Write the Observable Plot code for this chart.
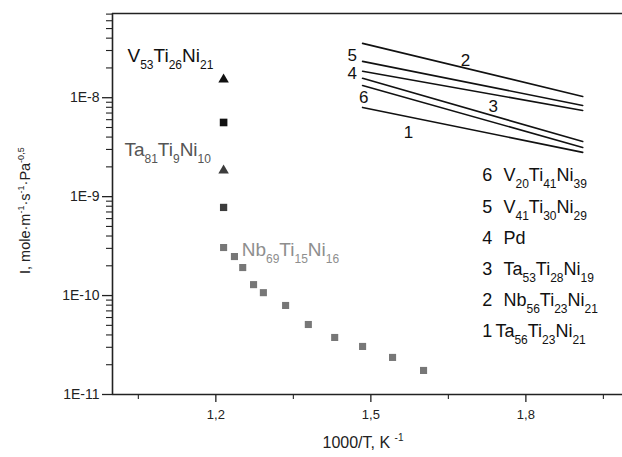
<!DOCTYPE html>
<html><head><meta charset="utf-8">
<script src="https://cdn.jsdelivr.net/npm/d3@7"></script>
<script src="https://cdn.jsdelivr.net/npm/@observablehq/plot@0.6"></script>
<style>body{margin:0;background:#fff} svg{font-family:"Liberation Sans",Arial,sans-serif}</style>
</head><body><div id="chart"></div>
<script>
// ---- data ----
const xDomain = [1.0, 1.987];
const yDomain = [1e-11, 7.1e-8];
const xMajor = [1.2, 1.5, 1.8];
const xMinor = [1.05, 1.35, 1.65, 1.95];
const yMajor = [1e-11, 1e-10, 1e-9, 1e-8];
const yMinor = [];
for (let e = -11; e <= -8; e++) for (let k = 2; k <= 9; k++) { const v = k * Math.pow(10, e); if (v < yDomain[1]) yMinor.push(v); }

// V53Ti26Ni21 (triangle, square)
const vX = [1.215, 1.215];
const vY = [1.53e-8, 5.62e-9];
// Ta81Ti9Ni10 (triangle, square)
const taX = [1.215, 1.215];
const taY = [1.84e-9, 7.78e-10];
const pairSymbol = ["triangle", "square"];
// Nb69Ti15Ni16 (squares)
const nbX = [1.215, 1.236, 1.252, 1.273, 1.292, 1.335, 1.379, 1.430, 1.484, 1.542, 1.602];
const nbY = [3.06e-10, 2.48e-10, 1.92e-10, 1.29e-10, 1.07e-10, 7.94e-11, 5.1e-11, 3.77e-11, 3.06e-11, 2.37e-11, 1.75e-11];

// literature lines 1..6
const lineIds = [1, 2, 3, 4, 5, 6];
const lineX = [1.484, 1.910];
const lineStart = [7.98e-9, 3.54e-8, 1.57e-8, 1.85e-8, 2.33e-8, 1.33e-8];
const lineEnd = [2.80e-9, 1.03e-8, 3.61e-9, 7.43e-9, 8.36e-9, 3.14e-9];
const lineNames = ["Ta_{56}Ti_{23}Ni_{21}", "Nb_{56}Ti_{23}Ni_{21}", "Ta_{53}Ti_{28}Ni_{19}", "Pd", "V_{41}Ti_{30}Ni_{29}", "V_{20}Ti_{41}Ni_{39}"];
// line number label anchors
const numLabelX = [1.573, 1.683, 1.737, 1.464, 1.464, 1.486];
const numLabelY = [4.46e-9, 2.38e-8, 8.17e-9, 1.76e-8, 2.68e-8, 1.01e-8];
// legend rows anchors
const legendY = [4.33e-11, 9.03e-11, 1.84e-10, 3.82e-10, 7.86e-10, 1.64e-9];
const legendNumX = [1.735, 1.735, 1.735, 1.735, 1.735, 1.735];
const legendNameX = [1.741, 1.7566, 1.7566, 1.7566, 1.7566, 1.7566];

// series annotations
const seriesNames = ["V_{53}Ti_{26}Ni_{21}", "Ta_{81}Ti_{9}Ni_{10}", "Nb_{69}Ti_{15}Ni_{16}"];
const seriesLabelX = [1.029, 1.023, 1.250];
const seriesLabelY = [2.65e-8, 2.96e-9, 2.92e-10];

const xLabel = "1000/T, K ^{-1}";
const yLabel = "I, mole·m^{-1}·s^{-1}·Pa^{-0,5}";

// ---- build tables ----
const vPts = vX.map((x, i) => ({x, y: vY[i], s: pairSymbol[i]}));
const taPts = taX.map((x, i) => ({x, y: taY[i], s: pairSymbol[i]}));
const nbPts = nbX.map((x, i) => ({x, y: nbY[i]}));
const lineTable = lineIds.flatMap((id, i) => [{id, x: lineX[0], y: lineStart[i]}, {id, x: lineX[1], y: lineEnd[i]}]);
const numLabels = lineIds.map((id, i) => ({t: String(id), x: numLabelX[i], y: numLabelY[i]}));
const legendNums = lineIds.map((id, i) => ({t: String(id), x: legendNumX[i], y: legendY[i]}));
const legendNames = lineIds.map((id, i) => ({t: lineNames[i], x: legendNameX[i], y: legendY[i]}));
const seriesLabels = seriesNames.map((t, i) => ({t, x: seriesLabelX[i], y: seriesLabelY[i]}));

const colV = "#111", colTa = "#3c3c3c", colTaText = "#555", colNb = "#777", colNbText = "#8e8e8e";
const seriesTextColors = [colV, colTaText, colNbText];

const plot = Plot.plot({
  width: 622, height: 457,
  marginLeft: 112, marginRight: 0, marginTop: 13, marginBottom: 63,
  style: {fontFamily: "Liberation Sans, Arial, sans-serif", background: "#fff", color: "#222"},
  x: {domain: xDomain},
  y: {type: "log", domain: yDomain},
  marks: [
    Plot.axisY(yMajor, {tickSize: 10, tickPadding: 3, strokeWidth: 1.3, fontSize: 14, tickFormat: d => "1E" + Math.round(Math.log10(d)), label: null}),
    Plot.axisY(yMinor, {tickSize: 6, strokeWidth: 1.1, tickFormat: () => "", label: null}),
    Plot.axisX(xMajor, {tickSize: 8, tickPadding: 7, strokeWidth: 1.3, fontSize: 13, tickFormat: d => d.toFixed(1).replace(".", ","), label: null}),
    Plot.axisX(xMinor, {tickSize: 5, strokeWidth: 1.1, tickFormat: () => "", label: null}),
    Plot.ruleY([yDomain[1]], {stroke: "#222", strokeWidth: 1.6}),
    Plot.ruleY([yDomain[0]], {stroke: "#222", strokeWidth: 1.6}),
    Plot.ruleX([xDomain[0]], {stroke: "#222", strokeWidth: 1.6}),
    Plot.line(lineTable, {x: "x", y: "y", z: "id", stroke: "#111", strokeWidth: 1.6}),
    Plot.dot(vPts, {filter: d => d.s === "triangle", x: "x", y: "y", symbol: "triangle", r: 3.9, fill: colV}),
    Plot.dot(vPts, {filter: d => d.s === "square", x: "x", y: "y", symbol: "square", r: 4.3, fill: colV}),
    Plot.dot(taPts, {filter: d => d.s === "triangle", x: "x", y: "y", symbol: "triangle", r: 3.9, fill: colTa}),
    Plot.dot(taPts, {filter: d => d.s === "square", x: "x", y: "y", symbol: "square", r: 4.1, fill: colTa}),
    Plot.dot(nbPts, {x: "x", y: "y", symbol: "square", r: 4.0, fill: colNb}),
    Plot.text(seriesLabels, {x: "x", y: "y", text: "t", textAnchor: "start", fontSize: 19, fill: d => seriesTextColors[seriesNames.indexOf(d.t)]}),
    Plot.text(numLabels, {x: "x", y: "y", text: "t", fontSize: 17, fill: "#111"}),
    Plot.text(legendNums, {x: "x", y: "y", text: "t", textAnchor: "end", fontSize: 18, fill: "#111"}),
    Plot.text(legendNames, {x: "x", y: "y", text: "t", textAnchor: "start", fontSize: 18, fill: "#111", ariaLabel: "legendnames"}),
    Plot.text([yLabel], {frameAnchor: "left", dx: -87, dy: 70, rotate: -90, textAnchor: "start", text: d => d, fontSize: 14.5, fill: "#222"}),
    Plot.text([xLabel], {frameAnchor: "bottom", dx: -45, dy: 53, textAnchor: "start", text: d => d, fontSize: 16, fill: "#222"})
  ]
});

// rich text: _{sub} and ^{sup}
const NS = "http://www.w3.org/2000/svg";
function baseSize(el) {
  for (let n = el; n && n.getAttribute; n = n.parentNode) { const f = n.getAttribute("font-size"); if (f) return parseFloat(f); }
  return 10;
}
function convert(el) {
  const s = el.textContent;
  if (!/[_^]\{/.test(s)) return;
  const b = baseSize(el);
  while (el.firstChild) el.removeChild(el.firstChild);
  const re = /([_^])\{([^}]*)\}|([^_^]+)/g;
  let m, cur = 0;
  while ((m = re.exec(s))) {
    const sp = document.createElementNS(NS, "tspan");
    let target = 0;
    if (m[1]) {
      sp.setAttribute("font-size", Math.round(b * 0.64));
      target = m[1] === "_" ? b * 0.38 : -b * 0.42;
      sp.textContent = m[2];
    } else sp.textContent = m[3];
    if (target !== cur) sp.setAttribute("dy", (target - cur).toFixed(2));
    cur = target;
    el.appendChild(sp);
  }
}
plot.querySelectorAll("text").forEach(t => {
  if (t.querySelector("tspan")) t.querySelectorAll("tspan").forEach(convert); else convert(t);
});
plot.querySelectorAll('g[aria-label="legendnames"] text').forEach(t => t.setAttribute("letter-spacing", "1.1"));
plot.querySelectorAll("text").forEach(t => t.setAttribute("xml:space", "preserve"));
document.getElementById("chart").appendChild(plot);
</script>
</body></html>
